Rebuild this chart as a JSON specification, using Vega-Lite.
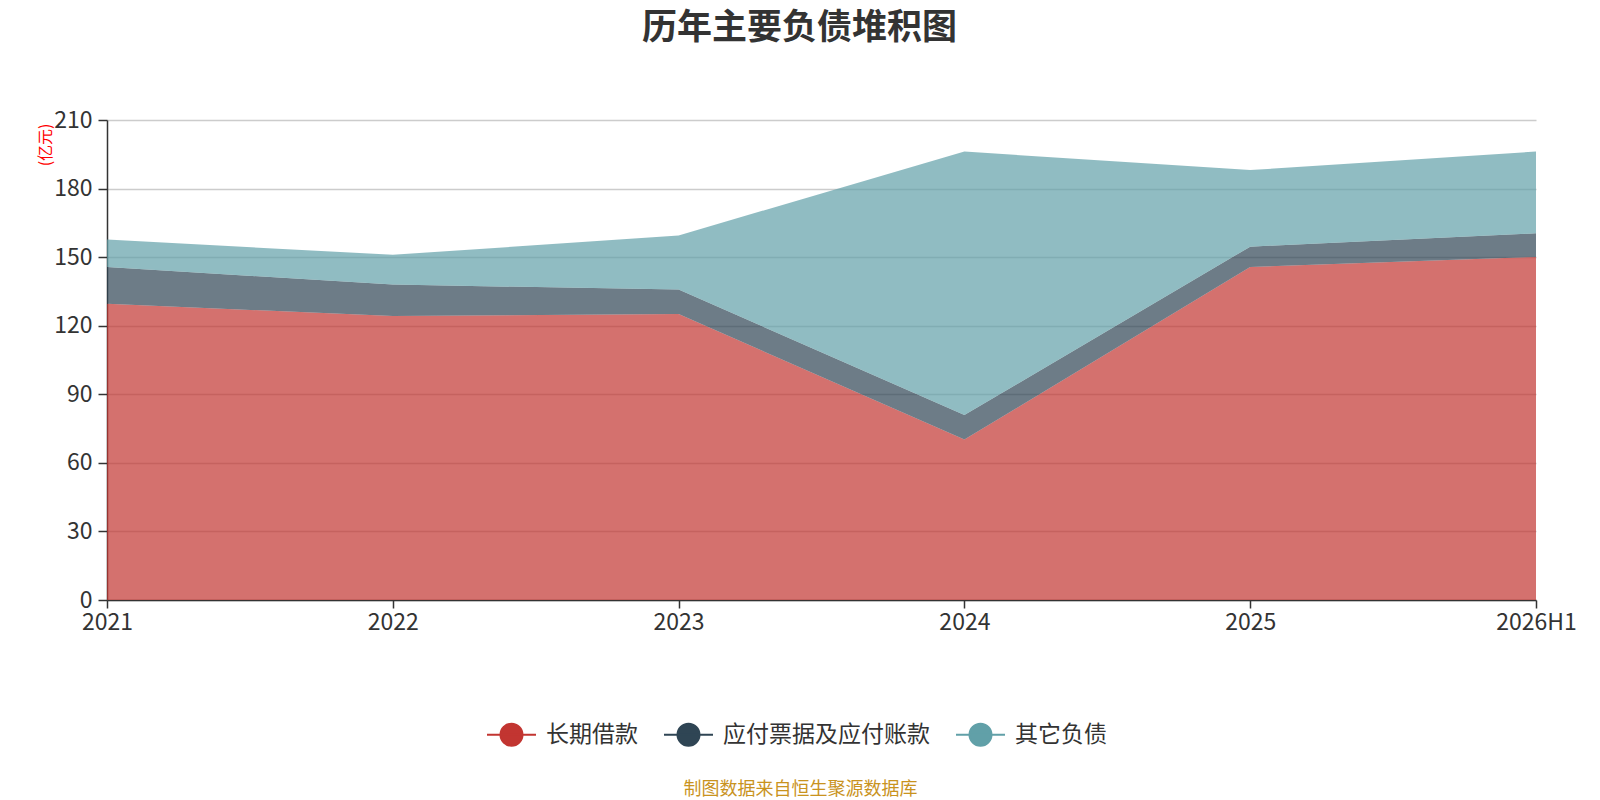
{
  "$schema": "https://vega.github.io/schema/vega-lite/v6.json",
  "autosize": {"type": "none"},
  "width": 1429,
  "height": 480,
  "padding": {"left": 107, "top": 120, "right": 64, "bottom": 200},
  "background": "white",
  "config": {"view": {"stroke": null}},
  "title": {
    "text": "历年主要负债堆积图",
    "anchor": "middle",
    "dx": -22,
    "offset": 63,
    "fontSize": 35,
    "font": "Noto Sans CJK SC",
    "fontWeight": "bold",
    "color": "#333333"
  },
  "data": {
    "values": [
      {"year": "2021", "type": "长期借款", "value": 129.6},
      {"year": "2022", "type": "长期借款", "value": 124.2},
      {"year": "2023", "type": "长期借款", "value": 125.1},
      {"year": "2024", "type": "长期借款", "value": 70.2},
      {"year": "2025", "type": "长期借款", "value": 145.7},
      {"year": "2026H1", "type": "长期借款", "value": 150.1},
      {"year": "2021", "type": "应付票据及应付账款", "value": 16.1},
      {"year": "2022", "type": "应付票据及应付账款", "value": 13.8},
      {"year": "2023", "type": "应付票据及应付账款", "value": 10.7},
      {"year": "2024", "type": "应付票据及应付账款", "value": 10.7},
      {"year": "2025", "type": "应付票据及应付账款", "value": 8.9},
      {"year": "2026H1", "type": "应付票据及应付账款", "value": 10.3},
      {"year": "2021", "type": "其它负债", "value": 12.0},
      {"year": "2022", "type": "其它负债", "value": 13.0},
      {"year": "2023", "type": "其它负债", "value": 23.7},
      {"year": "2024", "type": "其它负债", "value": 115.3},
      {"year": "2025", "type": "其它负债", "value": 33.5},
      {"year": "2026H1", "type": "其它负债", "value": 35.8}
    ]
  },
  "mark": {"type": "area", "opacity": 0.7},
  "encoding": {
    "x": {
      "field": "year",
      "type": "ordinal",
      "scale": {"type": "point", "padding": 0},
      "axis": {
        "title": "制图数据来自恒生聚源数据库",
        "titleFont": "Noto Sans CJK SC",
        "titleFontSize": 18,
        "titleFontWeight": "normal",
        "titleColor": "#c9931e",
        "titleX": 693,
        "titleY": 189,
        "titleAlign": "center",
        "titleBaseline": "middle",
        "labelAngle": 0,
        "labelFont": "Noto Sans CJK SC",
        "labelFontSize": 23,
        "labelColor": "#333333",
        "labelPadding": 3,
        "domainColor": "#333333",
        "domainWidth": 1.5,
        "tickColor": "#333333",
        "tickWidth": 1.5,
        "tickSize": 8,
        "grid": false
      }
    },
    "y": {
      "field": "value",
      "type": "quantitative",
      "stack": "zero",
      "scale": {"domain": [0, 210]},
      "axis": {
        "values": [0, 30, 60, 90, 120, 150, 180, 210],
        "title": "(亿元)",
        "titleColor": "#ff0000",
        "titleFont": "Noto Sans CJK SC",
        "titleFontSize": 16,
        "titleFontWeight": "normal",
        "titleAngle": 270,
        "titleX": -62,
        "titleY": 3,
        "titleAlign": "right",
        "titleBaseline": "middle",
        "labelFont": "Noto Sans CJK SC",
        "labelFontSize": 23,
        "labelColor": "#333333",
        "labelPadding": 6,
        "domainColor": "#333333",
        "domainWidth": 1.5,
        "tickColor": "#333333",
        "tickWidth": 1.5,
        "tickSize": 9,
        "gridColor": "#cccccc",
        "gridWidth": 1.5
      }
    },
    "color": {
      "field": "type",
      "type": "nominal",
      "sort": ["长期借款", "应付票据及应付账款", "其它负债"],
      "scale": {
        "domain": ["长期借款", "应付票据及应付账款", "其它负债"],
        "range": ["#c23531", "#2f4554", "#61a0a8"]
      },
      "legend": {
        "title": null,
        "orient": "none",
        "direction": "horizontal",
        "legendX": 379,
        "legendY": 589,
        "symbolType": "M -1 0 L 1 0 M 0.45 0 A 0.45 0.45 0 1 1 -0.45 0 A 0.45 0.45 0 1 1 0.45 0 Z",
        "symbolSize": 2400,
        "symbolStrokeWidth": 2,
        "symbolOpacity": 1,
        "labelFont": "Noto Sans CJK SC",
        "labelFontSize": 23,
        "labelColor": "#333333",
        "labelOffset": 9,
        "labelLimit": 400,
        "columnPadding": 22,
        "encode": {
          "symbols": {
            "update": {
              "stroke": {"scale": "color", "field": "value"},
              "strokeWidth": {"value": 2},
              "fill": {"scale": "color", "field": "value"},
              "opacity": {"value": 1}
            }
          }
        }
      }
    }
  }
}
